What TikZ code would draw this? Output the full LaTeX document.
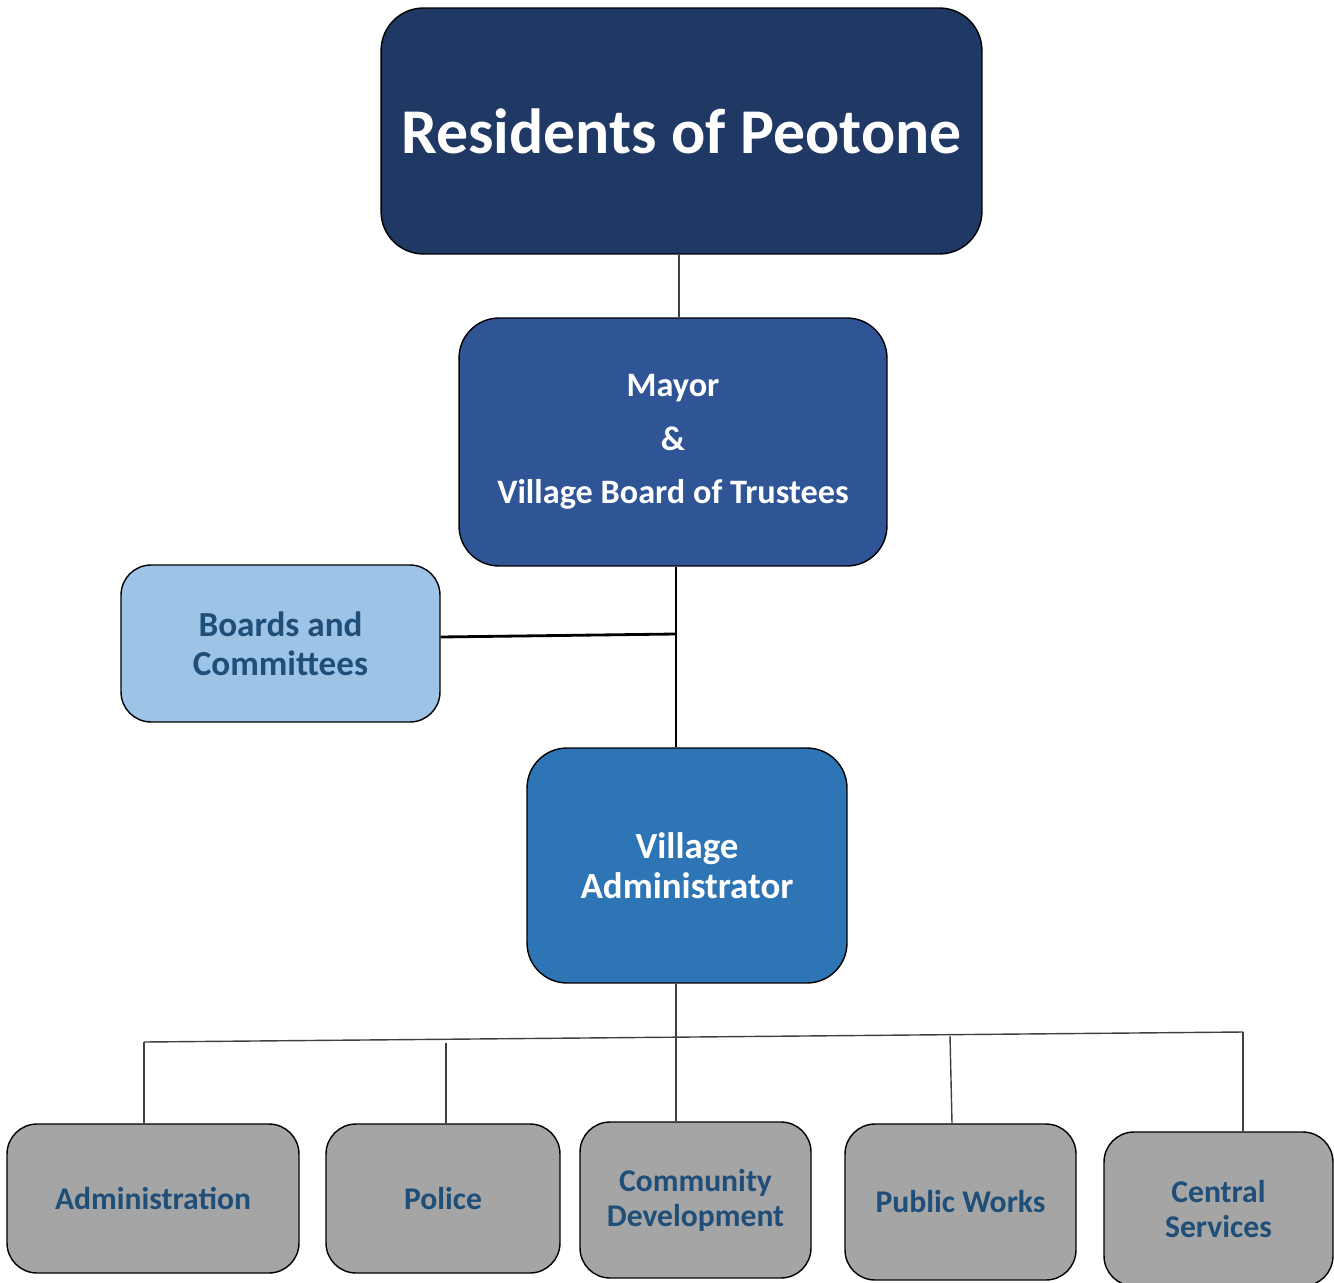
\documentclass[tikz,border=0pt]{standalone}
\usepackage{fontspec}
\setmainfont{Carlito}
\usepackage{tikz}
\usetikzlibrary{calc}
\definecolor{navy}{HTML}{203864}
\definecolor{mayorblue}{HTML}{2F5597}
\definecolor{lightblue}{HTML}{9DC3E6}
\definecolor{adminblue}{HTML}{2E75B6}
\definecolor{deptgrey}{HTML}{A5A5A5}
\definecolor{deptink}{HTML}{1F4E79}
\definecolor{wire}{HTML}{404040}
\tikzset{
  orgbox/.style={draw=black, line width=0.8pt, rounded corners=0.6cm, align=center, inner sep=0pt},
  deptbox/.style={orgbox, fill=deptgrey, text=deptink, font=\bfseries\fontsize{18}{20}\selectfont},
  wire/.style={draw=wire, line width=0.8pt}
}

\begin{document}
\begin{tikzpicture}[x={(0.02cm,0)}, y={(0,-0.02cm)}]
			%%%%% START %%%%%
			\useasboundingbox (0,0) rectangle (1334,1283);
			
			\node[orgbox, rounded corners=0.85cm, fill=navy, text=white, minimum width=12.02cm, minimum height=4.92cm,
				font=\bfseries\fontsize{36.3}{40}\selectfont] (residents) at (681.5,131) {Residents of Peotone};
			
			\node[orgbox, rounded corners=0.8cm, fill=mayorblue, text=white, minimum width=8.56cm, minimum height=4.96cm,
				font=\bfseries\fontsize{19.5}{30.5}\selectfont] (mayor) at (673,442) {Mayor\\\&\\Village Board of Trustees};
			
			\node[orgbox, fill=lightblue, text=deptink, minimum width=6.38cm, minimum height=3.14cm,
				font=\bfseries\fontsize{20}{22}\selectfont] (boards) at (280.5,643.5) {Boards and\\Committees};
			
			\node[orgbox, rounded corners=0.8cm, fill=adminblue, text=white, minimum width=6.4cm, minimum height=4.7cm,
				font=\bfseries\fontsize{21}{23}\selectfont] (vadmin) at (687,865.5) {Village\\Administrator};
			
			\node[deptbox, minimum width=5.84cm, minimum height=2.98cm] (admin) at (153,1198.5) {Administration};
			\node[deptbox, minimum width=4.68cm, minimum height=2.98cm] (police) at (443,1198.5) {Police};
			\node[deptbox, minimum width=4.62cm, minimum height=3.12cm] (commdev) at (695.5,1200) {Community\\Development};
			\node[deptbox, minimum width=4.62cm, minimum height=3.12cm] (pubworks) at (960.5,1202) {Public Works};
			\node[deptbox, minimum width=4.58cm, minimum height=3.08cm] (central) at (1218.5,1209) {Central\\Services};
			
			% connectors
			\coordinate (trunk) at (676,634);
			\coordinate (barL) at (144,1042);
			\coordinate (barR) at (1243,1032);
			\coordinate (pw) at (950,1036);
			
			\draw[wire] ([xshift=-0.05cm]residents.south) -- ([xshift=-0.05cm]residents.south |- mayor.north);
			\draw[line width=1.6pt] (mayor.south -| trunk) -- (trunk) -- (vadmin.north -| trunk);
			\draw[line width=1.6pt] ([yshift=0.13cm]boards.east) -- (trunk);
			
			\draw[wire] (vadmin.south -| trunk) -- (commdev.north -| trunk);
			\draw[wire] (barL) -- (barR);
			\draw[wire] (barL) -- (barL |- admin.north);
			\draw[wire] ([xshift=0.06cm]police.north) -- ++(0,-80);
			\draw[wire] (pw) -- ([xshift=-0.17cm]pubworks.north);
			\draw[wire] (barR) -- (barR |- central.north);
			%%%%% END %%%%%
\end{tikzpicture}
\end{document}
